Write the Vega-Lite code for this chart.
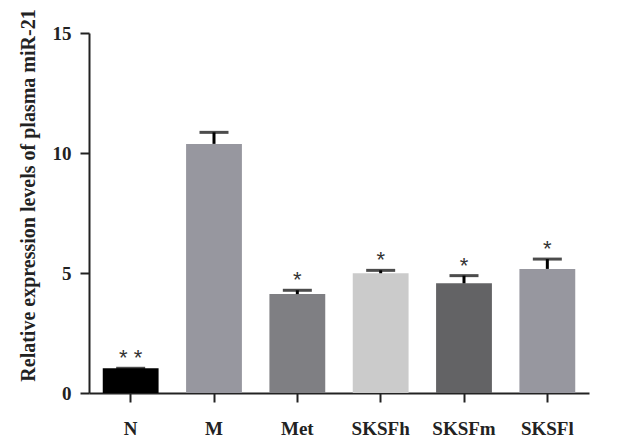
{
  "$schema": "https://vega.github.io/schema/vega-lite/v6.json",
  "width": 500,
  "height": 360,
  "autosize": "none",
  "padding": {"left": 89, "top": 33, "right": 55, "bottom": 48},
  "background": "white",
  "config": {"view": {"stroke": null}, "font": "Liberation Serif"},
  "data": {"values": [
    {"group": "N", "value": 1.03, "upper": 1.03, "sig": "* *"},
    {"group": "M", "value": 10.38, "upper": 10.86, "sig": ""},
    {"group": "Met", "value": 4.12, "upper": 4.28, "sig": "*"},
    {"group": "SKSFh", "value": 4.99, "upper": 5.11, "sig": "*"},
    {"group": "SKSFm", "value": 4.57, "upper": 4.89, "sig": "*"},
    {"group": "SKSFl", "value": 5.17, "upper": 5.58, "sig": "*"}
  ]},
  "encoding": {
    "x": {"field": "group", "type": "nominal", "sort": null,
      "scale": {"paddingInner": 0.33, "paddingOuter": 0.165},
      "axis": {"title": null, "labelAngle": 0, "labelFont": "Liberation Serif", "labelFontWeight": "bold", "labelFontSize": 19, "labelColor": "#222", "labelPadding": 17, "tickSize": 9, "tickWidth": 2, "tickColor": "#222", "domainColor": "#222", "domainWidth": 2, "grid": false}}
  },
  "layer": [
    {"mark": {"type": "bar"},
     "encoding": {
       "y": {"field": "value", "type": "quantitative",
         "scale": {"domain": [0, 15], "nice": false},
         "axis": {"title": "Relative expression levels of plasma miR-21", "titleFont": "Liberation Serif", "titleFontWeight": "bold", "titleFontSize": 20, "titleColor": "#222", "titlePadding": 14, "titleY": 162, "values": [0, 5, 10, 15], "labelFont": "Liberation Serif", "labelFontWeight": "bold", "labelFontSize": 19, "labelColor": "#222", "labelPadding": 9, "tickSize": 9, "tickWidth": 2, "tickColor": "#222", "domainColor": "#222", "domainWidth": 2, "grid": false}},
       "color": {"field": "group", "type": "nominal", "legend": null,
         "scale": {"domain": ["N", "M", "Met", "SKSFh", "SKSFm", "SKSFl"], "range": ["#000000", "#97979f", "#7f7f83", "#cbcbcb", "#636365", "#97979f"]}}
     }},
    {"mark": {"type": "rule", "strokeWidth": 3, "color": "black"},
     "encoding": {"y": {"field": "value", "type": "quantitative", "scale": {"domain": [0, 15], "nice": false}}, "y2": {"field": "upper"}}},
    {"mark": {"type": "tick", "size": 29, "thickness": 3, "color": "black"},
     "encoding": {"y": {"field": "upper", "type": "quantitative", "scale": {"domain": [0, 15], "nice": false}}}},
    {"mark": {"type": "text", "font": "Liberation Sans", "fontSize": 22, "color": "#333", "baseline": "alphabetic", "dy": -3},
     "encoding": {"y": {"field": "upper", "type": "quantitative", "scale": {"domain": [0, 15], "nice": false}}, "text": {"field": "sig"}}}
  ]
}
